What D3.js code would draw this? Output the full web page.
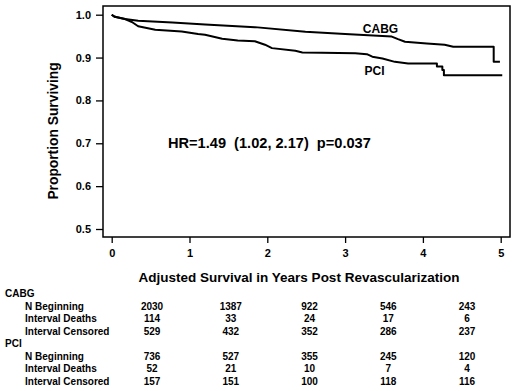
<!DOCTYPE html>
<html lang="en">
<head>
<meta charset="utf-8">
<title>Adjusted survival CABG vs PCI</title>
<script src="https://d3js.org/d3.v7.min.js"></script>
<style>
  body { margin: 0; background: #fff; }
  svg text { font-family: "Liberation Sans", Arial, Helvetica, sans-serif; font-weight: bold; fill: #000; }
</style>
</head>
<body>
<div id="chart1"></div>
<script>

// tick values
const xTickValues = [0, 1, 2, 3, 4, 5]
const yTickValues = [0.5, 0.6, 0.7, 0.8, 0.9, 1.0]

// survival curves (years, proportion)
const cabgYears = [0, 0.04, 0.17, 0.34, 0.78, 1.20, 1.84, 2.49, 3.00, 3.60, 3.68, 3.77, 4.05, 4.28, 4.39, 4.91, 4.91, 4.99]
const cabgSurv  = [1.000, 0.995, 0.990, 0.986, 0.982, 0.977, 0.971, 0.960, 0.955, 0.949, 0.943, 0.937, 0.933, 0.930, 0.925, 0.925, 0.890, 0.890]

const pciYears = [0, 0.04, 0.17, 0.26, 0.34, 0.56, 0.90, 1.11, 1.20, 1.42, 1.62, 1.84, 1.97, 2.06, 2.36, 2.45, 2.70, 3.13, 3.28, 3.35, 3.48, 3.64, 3.81, 4.18, 4.18, 4.25, 4.25, 4.27, 4.27, 5.02]
const pciSurv  = [1.000, 0.995, 0.990, 0.983, 0.973, 0.965, 0.961, 0.955, 0.953, 0.944, 0.940, 0.938, 0.930, 0.922, 0.916, 0.912, 0.911, 0.910, 0.908, 0.902, 0.898, 0.890, 0.886, 0.886, 0.879, 0.879, 0.871, 0.871, 0.859, 0.859]

// numbers at risk table
const rowLabels = ["N Beginning", "Interval Deaths", "Interval Censored"]
const cabgN        = [2030, 1387, 922, 546, 243]
const cabgDeaths   = [114, 33, 24, 17, 6]
const cabgCensored = [529, 432, 352, 286, 237]
const pciN         = [736, 527, 355, 245, 120]
const pciDeaths    = [52, 21, 10, 7, 4]
const pciCensored  = [157, 151, 100, 118, 116]

const hrText = "HR=1.49  (1.02, 2.17)  p=0.037"

const W = 517, H = 391
const frame = {left: 103, right: 510, top: 6, bottom: 237}

const svg = d3.select("#chart1").append("svg")
    .attr("width", W)
    .attr("height", H)

const x = d3.scaleLinear().domain([0, 5]).range([111.7, 500.7])
const y = d3.scaleLinear().domain([0.5, 1.0]).range([229, 14.7])

// plot frame
svg.append("rect")
    .attr("x", frame.left)
    .attr("y", frame.top)
    .attr("width", frame.right - frame.left)
    .attr("height", frame.bottom - frame.top)
    .attr("fill", "none")
    .attr("stroke", "#000")
    .attr("stroke-width", 1.5)

// y axis, sitting on the frame's left edge
const yAxis = svg.append("g")
    .attr("transform", "translate(" + frame.left + ",0)")
    .call(d3.axisLeft(y).tickValues(yTickValues).tickFormat(d3.format(".1f")).tickSize(7).tickPadding(5))
yAxis.select(".domain").remove()
yAxis.selectAll("line").attr("stroke", "#000").attr("stroke-width", 1.3)
yAxis.selectAll("text").style("font-size", "11px")

// x axis, below the frame
const xAxis = svg.append("g")
    .attr("transform", "translate(0," + frame.bottom + ")")
    .call(d3.axisBottom(x).tickValues(xTickValues).tickFormat(d3.format("d")).tickSize(6).tickPadding(6))
xAxis.select(".domain").remove()
xAxis.selectAll("line").attr("stroke", "#000").attr("stroke-width", 1.3)
xAxis.selectAll("text").style("font-size", "11px")

// axis titles
svg.append("text")
    .attr("transform", "translate(58," + 131 + ") rotate(-90)")
    .attr("text-anchor", "middle")
    .style("font-size", "13.8px")
    .text("Proportion Surviving")

svg.append("text")
    .attr("x", 299)
    .attr("y", 282)
    .attr("text-anchor", "middle")
    .style("font-size", "13.5px")
    .text("Adjusted Survival in Years Post Revascularization")

// curves
const line = d3.line()
    .x(function(d) { return x(d[0]) })
    .y(function(d) { return y(d[1]) })

const curves = [
    {key: "CABG", pts: d3.zip(cabgYears, cabgSurv)},
    {key: "PCI", pts: d3.zip(pciYears, pciSurv)}
]

svg.selectAll(".km")
    .data(curves)
    .enter()
    .append("path")
    .attr("class", "km")
    .attr("fill", "none")
    .attr("stroke", "#000")
    .attr("stroke-width", 2)
    .attr("stroke-linejoin", "round")
    .attr("d", function(d) { return line(d.pts) })

// curve labels
svg.append("text").attr("x", 380.5).attr("y", 32.5).attr("text-anchor", "middle")
    .style("font-size", "12px").text("CABG")
svg.append("text").attr("x", 374.5).attr("y", 74.5).attr("text-anchor", "middle")
    .style("font-size", "12px").text("PCI")

// hazard ratio
svg.append("text")
    .attr("x", 168)
    .attr("y", 148)
    .style("font-size", "14.6px")
    .style("white-space", "pre")
    .attr("xml:space", "preserve")
    .text(hrText)

// table below the chart
const col = d3.scaleLinear().domain([0, 4]).range([152, 467])
const groups = [
    {name: "CABG", y0: 296.6, rows: [cabgN, cabgDeaths, cabgCensored]},
    {name: "PCI", y0: 346.6, rows: [pciN, pciDeaths, pciCensored]}
]
const rowStep = 12.7

groups.forEach(function(g) {
    svg.append("text")
        .attr("x", 5)
        .attr("y", g.y0)
        .style("font-size", "10px")
        .text(g.name)

    g.rows.forEach(function(vals, r) {
        const yy = g.y0 + 12.9 + r * rowStep
        svg.append("text")
            .attr("x", 25)
            .attr("y", yy)
            .style("font-size", "10px")
            .text(rowLabels[r])

        svg.selectAll(null)
            .data(vals)
            .enter()
            .append("text")
            .attr("x", function(d, i) { return col(i) })
            .attr("y", yy)
            .attr("text-anchor", "middle")
            .style("font-size", "10px")
            .text(function(d) { return d })
    })
})

</script>
</body>
</html>
